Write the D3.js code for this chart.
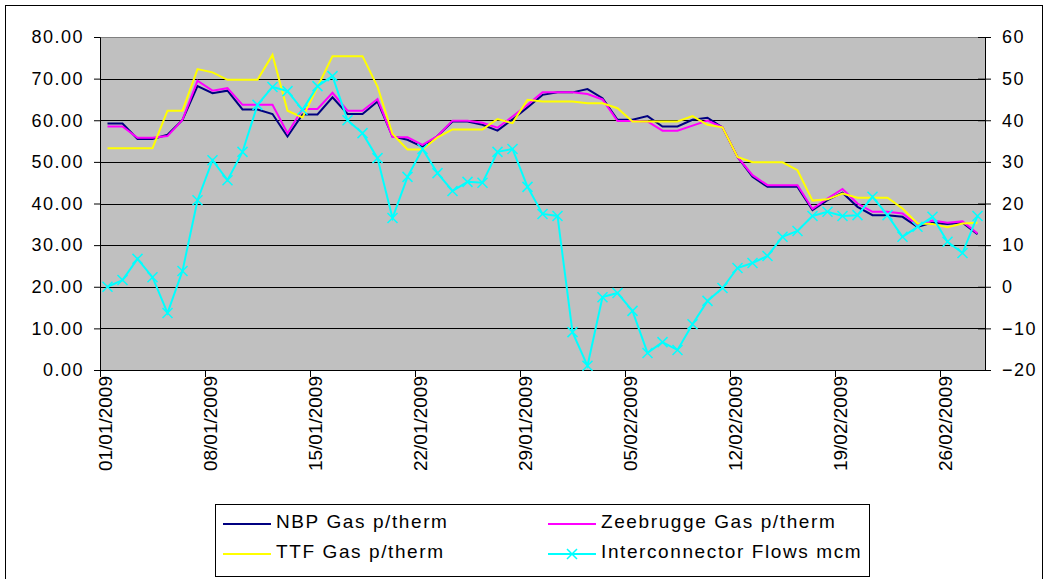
<!DOCTYPE html>
<html lang="en">
<head>
    <meta charset="UTF-8">
    <script src="https://cdn.jsdelivr.net/npm/d3@7"></script>
    <title>Gas prices and interconnector flows</title>
    <style>
        html, body {
            margin: 0px;
            padding: 0px;
            background-color: #ffffff;
        }
        svg text {
            font-family: "Liberation Sans", Arial, sans-serif;
            font-size: 18px;
            letter-spacing: 1.5px;
            fill: #000;
        }
        svg text.date {
            font-size: 19px;
            letter-spacing: 0px;
        }
        svg text.leg {
            font-size: 19px;
            letter-spacing: 1.6px;
        }
    </style>
</head>
<body>
    <div id="chart"></div>

    <script>
        // daily values, 01/01/2009 .. 28/02/2009
        let nbp = [59.2, 59.2, 55.5, 55.5, 56.5, 60.1, 68.2, 66.5, 67.1, 62.6,
                   62.6, 61.5, 56.1, 61.4, 61.4, 65.5, 61.5, 61.5, 64.5, 56.1,
                   55.3, 53.6, 56.2, 59.7, 59.7, 58.9, 57.5, 60.2, 63.1, 66.1,
                   66.7, 66.7, 67.5, 65.3, 60.1, 60.1, 61.0, 58.5, 58.5, 60.1,
                   60.6, 58.3, 51.2, 46.4, 44.0, 44.0, 44.0, 38.4, 40.8, 42.6,
                   39.2, 37.2, 37.2, 36.8, 34.4, 35.4, 35.1, 35.4, 32.6];
        let zeebrugge = [58.5, 58.5, 55.8, 55.8, 56.2, 60.1, 69.5, 67.1, 67.7, 63.7,
                         63.7, 63.7, 56.9, 62.7, 62.7, 66.6, 62.3, 62.3, 65.1, 56.0,
                         55.9, 54.1, 56.2, 59.9, 59.9, 59.4, 58.2, 60.9, 63.7, 66.7,
                         66.7, 66.7, 66.3, 65.0, 59.8, 59.8, 59.7, 57.5, 57.5, 58.7,
                         59.9, 58.3, 51.2, 46.8, 44.4, 44.4, 44.4, 38.7, 41.2, 43.5,
                         40.0, 38.0, 38.0, 37.6, 34.8, 35.9, 35.4, 35.7, 32.8];
        let ttf = [53.3, 53.3, 53.3, 53.3, 62.3, 62.3, 72.3, 71.5, 69.7, 69.7,
                   69.7, 75.7, 62.3, 60.7, 68.0, 75.4, 75.4, 75.4, 68.1, 56.7,
                   53.0, 53.0, 55.9, 57.8, 57.8, 57.8, 60.3, 59.3, 64.9, 64.5,
                   64.5, 64.5, 64.1, 64.1, 62.9, 59.7, 59.7, 59.7, 59.7, 61.0,
                   58.9, 58.3, 51.2, 49.9, 49.9, 49.9, 48.0, 40.7, 41.0, 42.4,
                   41.4, 41.4, 41.4, 38.8, 35.2, 35.1, 34.3, 35.2, 35.4];
        let flows = [0, 1.6, 6.7, 2.3, -6.3, 3.8, 20.8, 30.4, 25.6, 32.4,
                     43.7, 48, 47, 42.5, 48.2, 50.6, 40, 36.9, 30.9, 16.5,
                     26.4, 33.1, 27.3, 23, 25.2, 25, 32.4, 33.1, 24, 17.5,
                     17, -10.9, -19, -2.5, -1.5, -5.8, -15.9, -13.3, -15.2, -9,
                     -3.4, -0.3, 4.5, 5.7, 7.4, 12, 13.4, 17, 18, 17,
                     17.2, 21.6, 17.2, 12, 14.4, 16.8, 10.8, 8.1, 17];

        let days = d3.timeDay.range(new Date(2009, 0, 1), new Date(2009, 2, 1));
        let tickLabels = ['01/01/2009', '08/01/2009', '15/01/2009', '22/01/2009',
                          '29/01/2009', '05/02/2009', '12/02/2009', '19/02/2009', '26/02/2009'];
        let leftTicks = [0, 10, 20, 30, 40, 50, 60, 70, 80];
        let rightTicks = [-20, -10, 0, 10, 20, 30, 40, 50, 60];

        let series = [
            {name: 'NBP Gas p/therm', values: nbp, color: '#000080', axis: 'left'},
            {name: 'Zeebrugge Gas p/therm', values: zeebrugge, color: '#ff00ff', axis: 'left'},
            {name: 'TTF Gas p/therm', values: ttf, color: '#ffff00', axis: 'left'},
            {name: 'Interconnector Flows mcm', values: flows, color: '#00ffff', axis: 'right', marker: true}
        ];

        let width = 1044;
        let height = 579;
        let plot = {left: 100, right: 985, top: 37, bottom: 370};

        let svg = d3.select('#chart').append('svg')
            .attr('width', width)
            .attr('height', height);

        // outer chart frame
        svg.append('rect')
            .attr('x', 5.5).attr('y', 5.5)
            .attr('width', 1037).attr('height', 600)
            .attr('fill', '#fff').attr('stroke', '#000').attr('stroke-width', 1);

        let x = d3.scaleBand()
            .domain(days.map((d, i) => i))
            .range([plot.left, plot.right])
            .padding(0);
        let yL = d3.scaleLinear().domain([0, 80]).range([plot.bottom, plot.top]);
        let yR = d3.scaleLinear().domain([-20, 60]).range([plot.bottom, plot.top]);

        // plot area
        svg.append('rect')
            .attr('x', plot.left).attr('y', plot.top)
            .attr('width', plot.right - plot.left).attr('height', plot.bottom - plot.top)
            .attr('fill', '#c0c0c0').attr('stroke', '#808080').attr('stroke-width', 1)
            .attr('shape-rendering', 'crispEdges');

        // gridlines
        svg.append('g').selectAll('line')
            .data(leftTicks.slice(1, -1))
            .join('line')
            .attr('x1', plot.left).attr('x2', plot.right)
            .attr('y1', d => Math.round(yL(d)) + 0.5).attr('y2', d => Math.round(yL(d)) + 0.5)
            .attr('stroke', '#000').attr('stroke-width', 1);

        // left axis
        let axisL = d3.axisLeft(yL).tickValues(leftTicks).tickSize(6).tickPadding(10)
            .tickFormat(d3.format('.2f'));
        let gL = svg.append('g').attr('transform', `translate(${plot.left},0)`).call(axisL);
        gL.select('.domain').attr('stroke', '#000');
        gL.selectAll('text').style('font-size', '18px');

        // right axis, ticks cross the axis line
        let axisR = d3.axisRight(yR).tickValues(rightTicks).tickSize(6).tickPadding(11);
        let gR = svg.append('g').attr('transform', `translate(${plot.right},0)`).call(axisR);
        gR.selectAll('.tick line').attr('x1', -7);
        gR.select('.domain').attr('stroke', '#000');
        gR.selectAll('text').style('font-size', '18px');

        // x axis
        let weekIdx = d3.range(0, days.length, 7);
        svg.append('line')
            .attr('x1', plot.left).attr('x2', plot.right)
            .attr('y1', plot.bottom + 0.5).attr('y2', plot.bottom + 0.5)
            .attr('stroke', '#000');
        svg.append('g').selectAll('line')
            .data(weekIdx)
            .join('line')
            .attr('x1', i => Math.round(x(i)) + 0.5).attr('x2', i => Math.round(x(i)) + 0.5)
            .attr('y1', plot.bottom).attr('y2', plot.bottom + 7)
            .attr('stroke', '#000');
        svg.append('g').selectAll('text')
            .data(weekIdx)
            .join('text')
            .attr('class', 'date')
            .attr('transform', i => `translate(${x(i) + 5},${plot.bottom + 6}) rotate(-90)`)
            .attr('dy', '0.35em')
            .attr('text-anchor', 'end')
            .text((i, k) => tickLabels[k]);

        // lines
        let cx = i => x(i) + x.bandwidth() / 2;
        series.forEach(s => {
            let y = s.axis === 'left' ? yL : yR;
            let line = d3.line().x((v, i) => cx(i)).y(v => y(v));
            svg.append('path')
                .datum(s.values)
                .attr('d', line)
                .attr('fill', 'none')
                .attr('stroke', s.color)
                .attr('stroke-width', 2);
            if (s.marker) {
                svg.append('g').selectAll('path')
                    .data(s.values)
                    .join('path')
                    .attr('d', (v, i) => {
                        let px = cx(i), py = y(v), r = 5;
                        return `M${px - r},${py - r}L${px + r},${py + r}M${px - r},${py + r}L${px + r},${py - r}`;
                    })
                    .attr('stroke', s.color)
                    .attr('stroke-width', 1.5)
                    .attr('fill', 'none');
            }
        });

        // legend
        let legend = svg.append('g');
        legend.append('rect')
            .attr('x', 215.5).attr('y', 504.5)
            .attr('width', 654).attr('height', 72)
            .attr('fill', '#fff').attr('stroke', '#000');
        let legPos = [[223, 521], [548, 521], [223, 551], [548, 551]];
        let legOrder = [0, 1, 2, 3];
        legOrder.forEach((si, k) => {
            let s = series[si];
            let [lx, ly] = legPos[k];
            let g = legend.append('g').attr('transform', `translate(${lx},${ly})`);
            g.append('line')
                .attr('x1', 0).attr('x2', 48)
                .attr('y1', 3).attr('y2', 3)
                .attr('stroke', s.color).attr('stroke-width', 2);
            if (s.marker) {
                g.append('path')
                    .attr('d', 'M19,-2L29,8M19,8L29,-2')
                    .attr('stroke', s.color).attr('stroke-width', 1.5);
            }
            g.append('text')
                .attr('class', 'leg')
                .attr('x', 53).attr('y', 0)
                .attr('dy', '0.35em')
                .text(s.name);
        });
    </script>
</body>
</html>
